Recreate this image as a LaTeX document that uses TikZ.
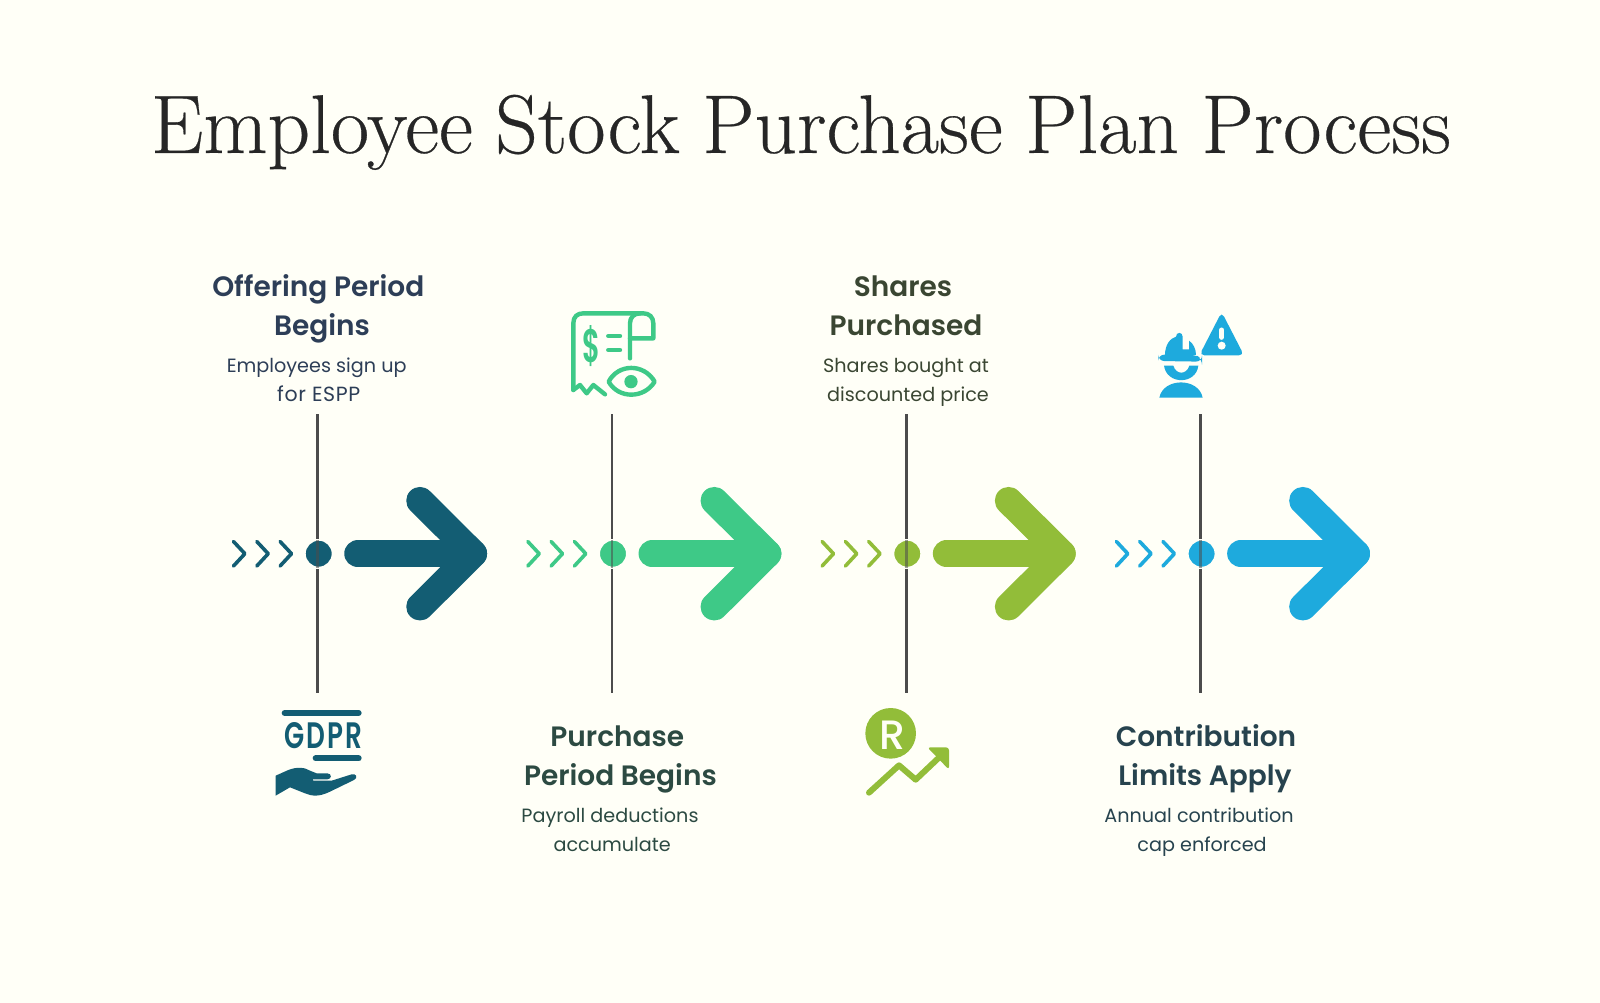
\documentclass[tikz,border=0pt]{standalone}
\usepackage{fontspec}
\newfontfamily\headf{Poppins}[BoldFont={Poppins SemiBold}]
\newfontfamily\bodyf{Poppins}
\newfontfamily\medf{Poppins Medium}
\newfontfamily\titlef{Latin Modern Roman}[FakeBold=0.35]
\definecolor{bgc}{HTML}{FFFFF7}
\definecolor{cA}{HTML}{135D73}
\definecolor{cB}{HTML}{3EC987}
\definecolor{cC}{HTML}{92BD39}
\definecolor{cD}{HTML}{1EAADD}
\definecolor{stemc}{HTML}{4C4C4C}
\definecolor{tA}{HTML}{2D3E57}
\definecolor{tB}{HTML}{2C4A42}
\definecolor{tC}{HTML}{3A4632}
\definecolor{tD}{HTML}{27434E}
\tikzset{
  hd/.style={inner sep=0pt,anchor=base,font=\headf\bfseries\fontsize{28}{30}\selectfont},
  ds/.style={inner sep=0pt,anchor=base,font=\bodyf\fontsize{19.2}{24}\selectfont},
  stem/.style={draw=stemc,line width=2.6pt},
  chev/.style={line width=3.6pt,line cap=round,line join=round},
  bigarrow/.style={line width=27.5pt,line cap=round,line join=round},
  dotn/.style={circle,minimum size=28pt,inner sep=0pt,outer sep=1pt,line width=2pt,draw=bgc},
  ico/.style={line width=4.4pt,line cap=round,line join=round},
}
% #1 name, #2 dot x, #3 colour
\newcommand{\stepcol}[3]{%
  \coordinate (t#1) at (#2-1,414);
  \coordinate (b#1) at (#2-1,693);
  \node[dotn,fill=#3] (d#1) at (#2,553.7) {};
  \draw[stem] (t#1) -- (t#1 |- d#1.north);
  \draw[stem] (b#1 |- d#1.south) -- (b#1);
  \draw[stem,opacity=.55] ([yshift=-1pt]t#1 |- d#1.north) -- ([yshift=1pt]b#1 |- d#1.south);
  \coordinate (s#1) at (#2+39.3,553.7);
  \coordinate (p#1) at (#2+154.6,553.7);
  \coordinate (u#1) at (#2+101.3,500.7);
  \coordinate (l#1) at (#2+101.3,606.7);
  \draw[bigarrow,draw=#3] (s#1) -- (p#1);
  \draw[bigarrow,draw=#3] (u#1) -- (p#1) -- (l#1);
  \foreach \k in {0,1,2}{
    \draw[chev,draw=#3] (#2-85.2+23.3*\k,541.5) -- (#2-73.8+23.3*\k,553.7) -- (#2-85.2+23.3*\k,566);
  }
}
\begin{document}
\begin{tikzpicture}[x=1pt,y=-1pt]
\useasboundingbox[fill=bgc] (0,0) rectangle (1600,1003);
\node[inner sep=0pt,anchor=base,text=black!85] (title) at (801,153) {\resizebox{1300pt}{!}{\titlef\fontsize{80}{90}\selectfont\spaceskip=.27em\relax Employee Stock Purchase Plan Process}};

\stepcol{1}{318.7}{cA}
\stepcol{2}{613}{cB}
\stepcol{3}{907.3}{cC}
\stepcol{4}{1201.6}{cD}

% column 1 text
\node[hd,text=tA] (h1a) at (318.3,296) {Offering Period};
\node[hd,text=tA] (h1b) at (322,335.5) {Begins};
\node[ds,text=tA] (s1a) at (316.7,372.7) {Employees sign up};
\node[ds,text=tA] (s1b) at (318.7,401.7) {\addfontfeature{LetterSpace=3}\fontsize{20.5}{24}\selectfont for ESPP};
% column 2 text
\node[hd,text=tB] (h2a) at (617.3,746) {Purchase};
\node[hd,text=tB] (h2b) at (620.4,785.5) {Period Begins};
\node[ds,text=tB] (s2a) at (610,822.7) {Payroll deductions};
\node[ds,text=tB] (s2b) at (612.2,851.7) {accumulate};
% column 3 text
\node[hd,text=tC] (h3a) at (903,296) {Shares};
\node[hd,text=tC] (h3b) at (906,335) {Purchased};
\node[ds,text=tC] (s3a) at (906,372.7) {Shares bought at};
\node[ds,text=tC] (s3b) at (908,401.7) {discounted price};
% column 4 text
\node[hd,text=tD] (h4a) at (1206,746) {Contribution};
\node[hd,text=tD] (h4b) at (1205,785.5) {Limits Apply};
\node[ds,text=tD] (s4a) at (1199,822.7) {Annual contribution};
\node[ds,text=tD] (s4b) at (1202,851.7) {cap enforced};

% GDPR icon
\begin{scope}[shift={(250,690)},x=0.3333pt,y=-0.3333pt]
  \draw[cA,line width=6pt,line cap=round] (104,69) -- (326,69);
  \draw[cA,line width=6pt,line cap=round] (197,205) -- (326,205);
  \node[inner sep=0pt,text=cA,font=\headf\bfseries] (gdpr) at (220,138) {\resizebox{78pt}{26pt}{G\kern.08em D\kern.08em P\kern.08em R}};
  \fill[cA] (77,257) -- (115,240) .. controls (140,230) and (165,232) .. (180,242) -- (200,250) -- (232,250) .. controls (246,250) and (246,268) .. (232,268) -- (188,268) -- (190,272) -- (245,272) -- (305,253) .. controls (318,250) and (326,262) .. (312,270) -- (240,305) .. controls (205,322) and (185,318) .. (165,310) -- (120,292) -- (77,317) -- cycle;
\end{scope}

% receipt icon
\begin{scope}[shift={(550,295)},x=0.3333pt,y=-0.3333pt]
  \draw[cB,ico] (70,285) -- (70,85) .. controls (70,65) and (82,55) .. (100,55) -- (280,55) .. controls (298,55) and (310,67) .. (310,85) -- (310,130) -- (240,130);
  \draw[cB,ico] (240,190) -- (240,85) .. controls (240,67) and (252,55) .. (270,55);
  \draw[cB,ico] (70,285) -- (90,270) -- (110,295) -- (130,270) -- (165,298);
  \node[inner sep=0pt,text=cB,font=\headf\bfseries] (dollar) at (125,152) {\resizebox{18pt}{37pt}{\$}};
  \draw[cB,ico] (175,123) -- (210,123);
  \draw[cB,ico] (175,165) -- (210,165);
  \draw[cB,ico] (176,260) .. controls (205,205) and (282,205) .. (314,260) .. controls (282,312) and (205,312) .. (176,260) -- cycle;
  \fill[cB] (243,260) circle[radius=20];
\end{scope}

% R icon
\begin{scope}[shift={(850,695)},x=0.3333pt,y=-0.3333pt]
  \fill[cC] (122,115) circle[radius=76];
  \node[inner sep=0pt,text=bgc,font=\medf\fontsize{41}{44}\selectfont] (rr) at (127,120) {R};
  \draw[cC,line width=6pt,line cap=round,line join=round] (57,293) -- (147,211) -- (197,254) -- (272,183);
  \fill[cC,rounded corners=3pt] (232,157) -- (297,157) -- (297,224) -- cycle;
\end{scope}

% worker and warning icon
\begin{scope}[shift={(1140,300)},x=0.3333pt,y=-0.3333pt]
  \fill[cD,rounded corners=5pt] (245,36) -- (312,166) -- (178,166) -- cycle;
  \draw[bgc,line width=5pt,line cap=round] (245,90) -- (245,112);
  \fill[bgc] (245,137) circle[radius=12];
  % hard hat
  \fill[cD] (75,165) .. controls (75,135) and (90,115) .. (108,110) .. controls (108,95) and (128,95) .. (128,110) -- (128,148) -- (147,148) -- (147,122) .. controls (160,130) and (168,148) .. (168,165) -- cycle;
  \fill[cD,rounded corners=6pt] (55,164) -- (165,164) -- (186,176) -- (186,185) -- (55,183) -- cycle;
  % face and shoulders
  \fill[cD] (72,197) .. controls (80,255) and (168,255) .. (175,197) -- (148,197) .. controls (140,225) and (108,225) .. (100,197) -- cycle;
  \fill[cD] (58,293) .. controls (70,232) and (176,232) .. (188,293) -- cycle;
\end{scope}
\end{tikzpicture}
\end{document}
